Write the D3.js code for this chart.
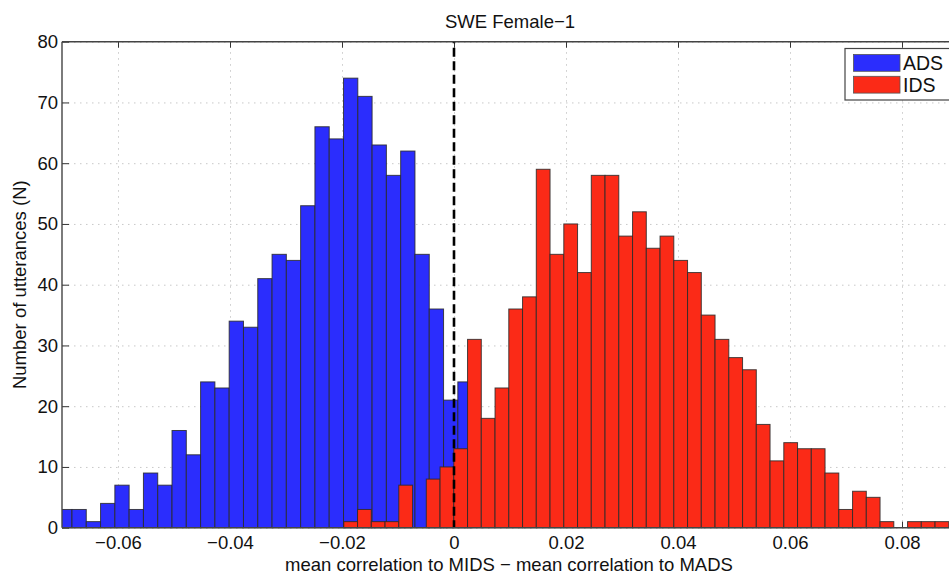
<!DOCTYPE html>
<html lang="en">
<head>
<meta charset="UTF-8">
<title>SWE Female-1</title>
<script src="https://d3js.org/d3.v7.min.js"></script>
<style>
    body { margin: 0; padding: 0; background: #fff; overflow: hidden; }
    svg { display: block; font-family: "Liberation Sans", Arial, Helvetica, sans-serif; }
    .grid line { stroke: #c8c8c8; stroke-width: 1; stroke-dasharray: 1.5, 4.5; }
    .grid path { display: none; }
    .axis path { display: none; }
    .axis line { stroke: #333; stroke-width: 1; }
    .axis text { font-size: 18.5px; fill: #111; }
    .bar { stroke: #2a2a2a; stroke-width: 1; stroke-opacity: 0.85; }
</style>
</head>
<body>
<div id="chart"></div>
<script>
    // histogram bins (left edge of first bin and bin width) and counts per bin
    const adsBinStart = -0.07077;
    const adsBinWidth = 0.002552;
    const adsCounts = [3, 3, 1, 4, 7, 3, 9, 7, 16, 12, 24, 23, 34, 33, 41, 45, 44, 53, 66, 64,
        74, 71, 63, 58, 62, 45, 36, 21, 24];

    const idsBinStart = -0.01968;
    const idsBinWidth = 0.0024554;
    const idsCounts = [1, 3, 1, 1, 7, 0, 8, 10, 13, 31, 18, 23, 36, 38, 59, 45, 50, 42, 58, 58,
        48, 52, 46, 48, 44, 42, 35, 31, 28, 26, 17, 11, 14, 13, 13, 9, 3, 6, 5, 1, 0, 1, 1, 1];

    const seriesNames = ["ADS", "IDS"];
    const seriesColors = ["#2b2dfd", "#fb2a17"];
    const xTicks = [-0.06, -0.04, -0.02, 0, 0.02, 0.04, 0.06, 0.08];
    const yTicks = [0, 10, 20, 30, 40, 50, 60, 70, 80];
    const xDomain = [-0.07, 0.09];
    const yDomain = [0, 80];

    const W = 949, H = 576;
    const margin = { top: 41.7, right: -9, bottom: 48.3, left: 62 };
    const plotW = W - margin.left - margin.right;
    const plotH = H - margin.top - margin.bottom;

    const svg = d3.select("#chart").append("svg")
        .attr("width", W)
        .attr("height", H);

    const g = svg.append("g")
        .attr("transform", `translate(${margin.left},${margin.top})`);

    const x = d3.scaleLinear().domain(xDomain).range([0, plotW]);
    const y = d3.scaleLinear().domain(yDomain).range([plotH, 0]);

    svg.append("defs").append("clipPath").attr("id", "plotClip")
        .append("rect").attr("width", plotW).attr("height", plotH + 1);

    // dotted grid
    g.append("g").attr("class", "grid")
        .attr("transform", `translate(0,${plotH})`)
        .call(d3.axisBottom(x).tickValues(xTicks).tickSize(-plotH).tickFormat(""));
    g.append("g").attr("class", "grid")
        .call(d3.axisLeft(y).tickValues(yTicks).tickSize(-plotW).tickFormat(""));

    // inward ticks
    const fmt = d => d === 0 ? "0" : d3.format(".2f")(d);
    g.append("g").attr("class", "axis")
        .attr("transform", `translate(0,${plotH})`)
        .call(d3.axisBottom(x).tickValues(xTicks).tickSize(-6).tickPadding(8).tickFormat(fmt));
    g.append("g").attr("class", "axis")
        .call(d3.axisTop(x).tickValues(xTicks).tickSize(-6).tickFormat(""));
    g.append("g").attr("class", "axis")
        .call(d3.axisLeft(y).tickValues(yTicks).tickSize(-7).tickPadding(4));

    // bars
    const bars = g.append("g").attr("clip-path", "url(#plotClip)");

    function drawHist(counts, start, width, color) {
        const bins = counts.map((c, i) => ({ x0: start + i * width, x1: start + (i + 1) * width, n: c }))
            .filter(d => d.n > 0);
        bars.append("g").selectAll("rect")
            .data(bins)
            .enter().append("rect")
            .attr("class", "bar")
            .attr("x", d => x(d.x0))
            .attr("width", d => x(d.x1) - x(d.x0))
            .attr("y", d => y(d.n))
            .attr("height", d => y(0) - y(d.n))
            .attr("fill", color);
    }
    drawHist(adsCounts, adsBinStart, adsBinWidth, seriesColors[0]);
    drawHist(idsCounts, idsBinStart, idsBinWidth, seriesColors[1]);

    // dashed line at zero
    g.append("line")
        .attr("x1", x(0)).attr("x2", x(0))
        .attr("y1", y(80)).attr("y2", y(0))
        .attr("stroke", "#000")
        .attr("stroke-width", 2.6)
        .attr("stroke-dasharray", "9,4.5")
        .attr("stroke-dashoffset", -6);

    // axis box
    g.append("line").attr("x1", 0).attr("x2", plotW).attr("y1", plotH).attr("y2", plotH)
        .attr("stroke", "#444").attr("stroke-width", 1.4);
    g.append("line").attr("x1", 0).attr("x2", plotW).attr("y1", 0).attr("y2", 0)
        .attr("stroke", "#444").attr("stroke-width", 1.4);
    g.append("line").attr("x1", 0).attr("x2", 0).attr("y1", 0).attr("y2", plotH)
        .attr("stroke", "#444").attr("stroke-width", 1.4);

    // legend
    const legend = svg.append("g").attr("transform", "translate(845,48.5)");
    legend.append("rect")
        .attr("width", 120).attr("height", 51.5)
        .attr("fill", "#fff").attr("stroke", "#444").attr("stroke-width", 1.2);
    seriesNames.forEach((name, i) => {
        const row = legend.append("g").attr("transform", `translate(8.5,${6 + i * 21.8})`);
        row.append("rect")
            .attr("width", 46.5).attr("height", 16.8)
            .attr("fill", seriesColors[i])
            .attr("stroke", "#555").attr("stroke-width", 0.8);
        row.append("text")
            .attr("x", 49.5).attr("y", 15.5)
            .style("font-size", "19.5px").attr("fill", "#111")
            .text(name);
    });

    // title and labels
    svg.append("text")
        .attr("x", margin.left + plotW / 2).attr("y", 28.3)
        .attr("text-anchor", "middle")
        .style("font-size", "18.5px").attr("fill", "#111")
        .text("SWE Female\u22121");

    svg.append("text")
        .attr("x", 509).attr("y", 571)
        .attr("text-anchor", "middle")
        .style("font-size", "18.5px").attr("fill", "#111")
        .text("mean correlation to MIDS \u2212 mean correlation to MADS");

    svg.append("text")
        .attr("transform", `translate(26,${margin.top + plotH / 2}) rotate(-90)`)
        .attr("text-anchor", "middle")
        .style("font-size", "18.5px").attr("fill", "#111")
        .text("Number of utterances (N)");
</script>
</body>
</html>
